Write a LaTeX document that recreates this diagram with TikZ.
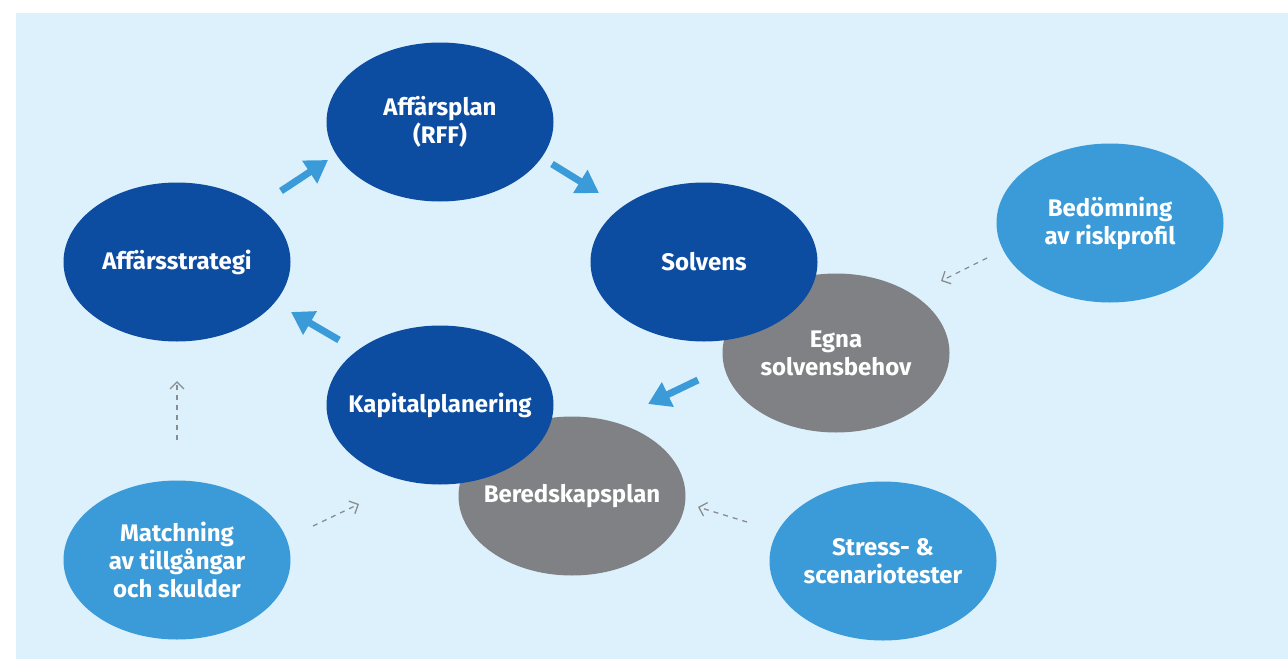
\documentclass[tikz,border=0pt]{standalone}
\usepackage{fontspec}
\setmainfont{Fira Sans}
\usetikzlibrary{shapes.geometric,arrows.meta}
\definecolor{bgblue}{HTML}{DDF1FC}
\definecolor{darkblue}{HTML}{0C4DA2}
\definecolor{midblue}{HTML}{3A9BD8}
\definecolor{greyell}{HTML}{808185}
\definecolor{dashgrey}{HTML}{8A8C8F}
\tikzset{
  ell/.style={ellipse, inner xsep=-40pt, inner ysep=0pt, minimum width=227pt, minimum height=159pt,
     text=white, align=center, font=\fontsize{24}{28}\selectfont\bfseries},
  dark/.style={ell, fill=darkblue},
  grey/.style={ell, fill=greyell},
  light/.style={ell, fill=midblue},
  bigarrow/.style={draw=midblue, line width=7pt, -{Triangle[length=22pt,width=26pt]}},
  dasharrow/.style={draw=dashgrey, line width=1.3pt, dash pattern=on 5pt off 5pt,
     -{Straight Barb[length=7pt,width=14pt,line width=1.3pt]}}
}
\begin{document}
\begin{tikzpicture}[x=1pt,y=-1pt]
\useasboundingbox (0,0) rectangle (1288,659);
\fill[bgblue] (16,13) rectangle (1288,659);
% grey ellipses behind
\node[grey] (egna) at (836,353) {Egna\\solvensbehov};
\node[grey] (bered) at (572,496) {Beredskapsplan};
% dark blue
\node[dark] (plan) at (440,122) {Affärsplan\\(RFF)};
\node[dark] (strat) at (177,262) {Affärsstrategi};
\node[dark] (solv) at (704,262) {Solvens};
\node[dark] (kap) at (440,405) {Kapitalplanering};
% light blue
\node[light] (risk) at (1110,223) {Bedömning\\av riskprofil};
\node[light] (match) at (177,560) {Matchning\\av tillgångar\\och skulder};
\node[light] (stress) at (883,561) {Stress- \&\\scenariotester};
% big arrows
\coordinate (a1s) at (281,191); \coordinate (a1e) at (328,160);
\coordinate (a2s) at (552,164); \coordinate (a2e) at (599,193);
\coordinate (a3s) at (698,380); \coordinate (a3e) at (648,404);
\coordinate (a4s) at (339,340); \coordinate (a4e) at (291,312);
\draw[bigarrow] (a1s) -- (a1e);
\draw[bigarrow] (a2s) -- (a2e);
\draw[bigarrow] (a3s) -- (a3e);
\draw[bigarrow] (a4s) -- (a4e);
% dashed arrows
\coordinate (d1s) at (987,258); \coordinate (d1e) at (941,281);
\coordinate (d2s) at (177,440); \coordinate (d2e) at (177,381);
\coordinate (d3s) at (313,526); \coordinate (d3e) at (359,504);
\coordinate (d4s) at (747,522); \coordinate (d4e) at (698,507);
\draw[dasharrow] (d1s) -- (d1e);
\draw[dasharrow] (d2s) -- (d2e);
\draw[dasharrow] (d3s) -- (d3e);
\draw[dasharrow] (d4s) -- (d4e);
\end{tikzpicture}
\end{document}
